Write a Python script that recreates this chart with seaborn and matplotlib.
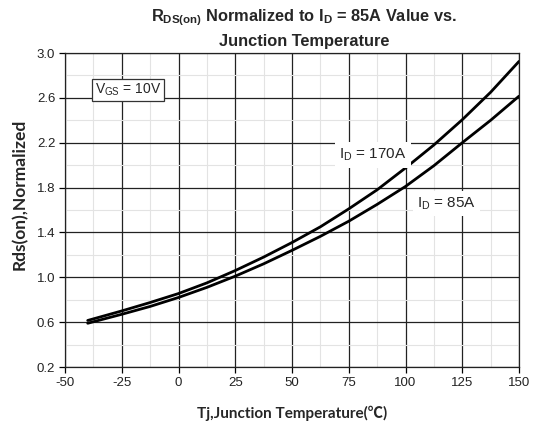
import matplotlib
matplotlib.use("Agg")
import matplotlib.pyplot as plt
import seaborn as sns
import pandas as pd
from matplotlib.ticker import MultipleLocator

temps = [-40, -25, -12.5, 0, 12.5, 25, 37.5, 50, 62.5, 75, 87.5, 100, 112.5, 125, 137.5, 150]
rds_170A = [0.615, 0.70, 0.775, 0.855, 0.95, 1.06, 1.18, 1.31, 1.45, 1.61, 1.78, 1.975, 2.18, 2.405, 2.65, 2.925]
rds_85A = [0.59, 0.67, 0.74, 0.82, 0.91, 1.01, 1.12, 1.24, 1.365, 1.50, 1.65, 1.81, 1.995, 2.20, 2.40, 2.615]
x_ticks = [-50, -25, 0, 25, 50, 75, 100, 125, 150]
y_ticks = [0.2, 0.6, 1.0, 1.4, 1.8, 2.2, 2.6, 3.0]

df = pd.DataFrame({
    "T": temps * 2,
    "R": rds_170A + rds_85A,
    "series": ["170A"] * len(temps) + ["85A"] * len(temps),
})

sns.set_style("white")
plt.rcParams['font.family'] = ['Liberation Sans', 'DejaVu Sans']

fig = plt.figure(figsize=(5.33, 4.26), dpi=100)
ax = fig.add_axes([65/533, 59/426, 454/533, 314/426])

sns.lineplot(data=df, x="T", y="R", units="series", estimator=None,
             color="black", linewidth=2.0, ax=ax, legend=False, zorder=5)

ax.set_xlim(-50, 150)
ax.set_ylim(0.2, 3.0)
ax.set_xticks(x_ticks)
ax.set_xticklabels([str(t) for t in x_ticks])
ax.set_yticks(y_ticks)
ax.set_yticklabels([f"{t:.1f}" for t in y_ticks])
ax.xaxis.set_minor_locator(MultipleLocator(12.5))
ax.yaxis.set_minor_locator(MultipleLocator(0.2))
ax.grid(which="major", color="#222222", linewidth=0.9, zorder=1)
ax.grid(which="minor", color="#e3e3e3", linewidth=0.8, zorder=0)
ax.set_axisbelow(True)
ax.tick_params(which="major", direction="out", length=4, width=0.9, color="black",
               labelsize=9.5, labelcolor="#222222", pad=3, bottom=True, left=True)
ax.tick_params(which="minor", length=0)
for s in ax.spines.values():
    s.set_color("#222222")
    s.set_linewidth(0.9)

ax.set_xlabel("Tj,Junction Temperature(℃)", family=['Lato', 'Noto Sans CJK SC'],
              fontweight='bold', fontsize=11, labelpad=12)
ax.set_ylabel("Rds(on),Normalized", family=['Lato', 'Noto Sans CJK SC'],
              fontweight='bold', fontsize=12.5)
ax.yaxis.set_label_coords(-0.082, 0.551)

fig.text(0.57, 0.958, r"R$_{\mathdefault{DS(on)}}$ Normalized to I$_{\mathdefault{D}}$ = 85A Value vs.",
         ha="center", va="center", fontsize=11.8, fontweight="bold")
fig.text(0.57, 0.903, "Junction Temperature", ha="center", va="center",
         fontsize=11.8, fontweight="bold")

ax.text(-22.2, 2.67, r"V$_{\mathdefault{GS}}$ = 10V", ha="center", va="center", fontsize=10,
        bbox=dict(boxstyle="square,pad=0.2", fc="white", ec="#333333", lw=0.9), zorder=6)
ax.text(85.5, 2.09, r"I$_{\mathdefault{D}}$ = 170A", ha="center", va="center", fontsize=11,
        bbox=dict(boxstyle="square,pad=0.28", fc="white", ec="none"), zorder=6)
ax.text(118, 1.66, r"I$_{\mathdefault{D}}$ = 85A", ha="center", va="center", fontsize=11,
        bbox=dict(boxstyle="square,pad=0.28", fc="white", ec="none"), zorder=6)

fig.savefig("out.png", dpi=100)
